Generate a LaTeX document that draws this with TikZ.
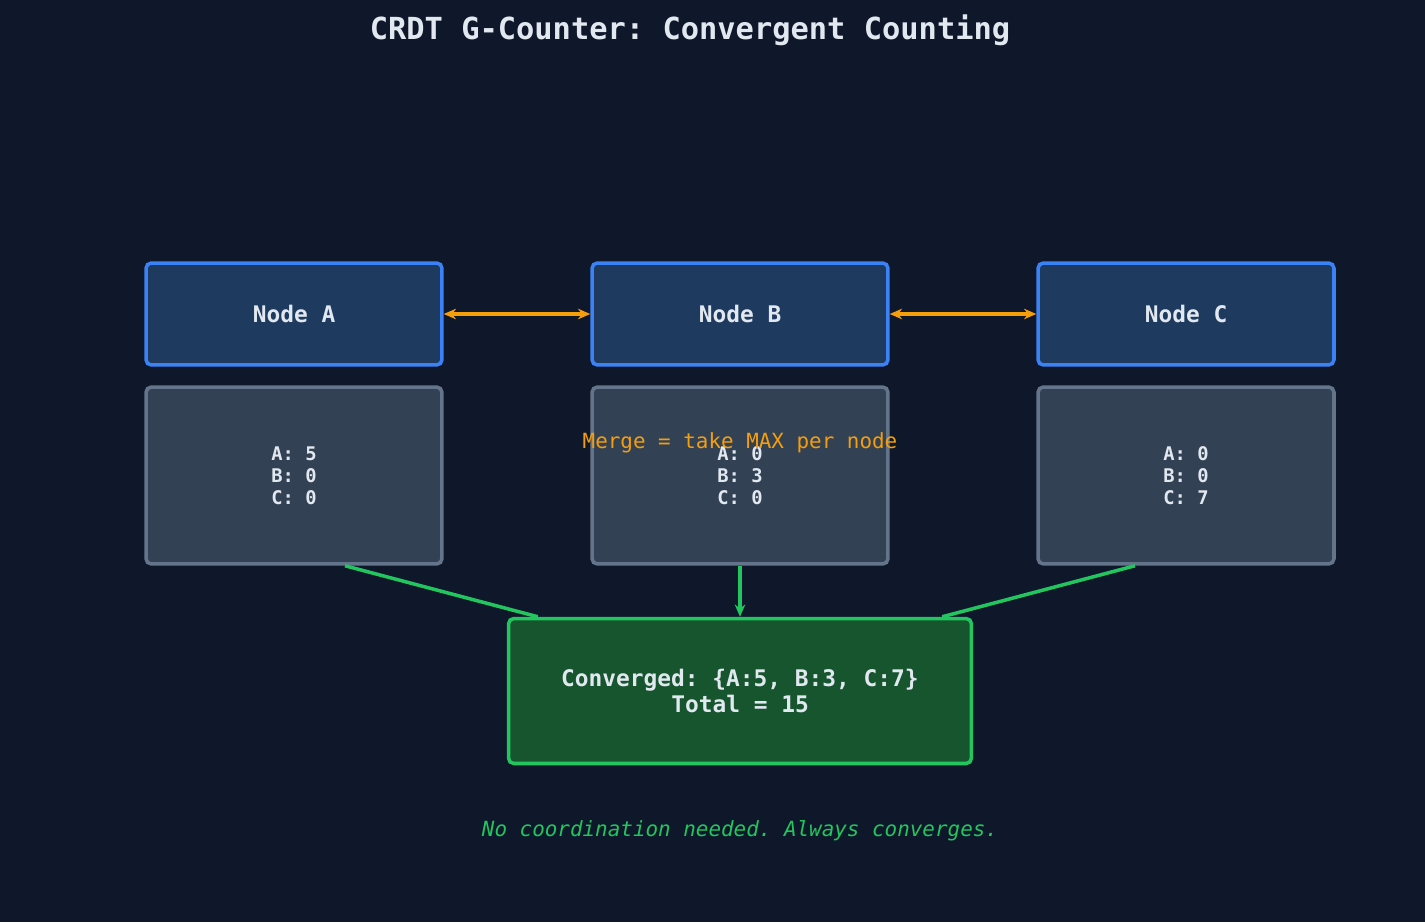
\documentclass[tikz,border=0pt]{standalone}
\usepackage{fontspec}
\setmonofont{DejaVu Sans Mono}
\usetikzlibrary{arrows.meta,calc}
\definecolor{bgcol}{HTML}{0F172A}
\definecolor{nodefill}{HTML}{1E3A5F}
\definecolor{nodeline}{HTML}{3B82F6}
\definecolor{cntfill}{HTML}{334155}
\definecolor{cntline}{HTML}{64748B}
\definecolor{convfill}{HTML}{17552F}
\definecolor{convline}{HTML}{22C55E}
\definecolor{mergecol}{HTML}{F59E0B}
\definecolor{txtcol}{HTML}{E2E8F0}
\tikzset{
    replica/.style={rectangle, rounded corners=3pt, draw=nodeline, fill=nodefill, line width=2pt,
        minimum width=5.92cm, minimum height=2.04cm, text=txtcol, font=\ttfamily\bfseries\fontsize{13}{15}\selectfont},
    counter/.style={rectangle, rounded corners=3pt, draw=cntline, fill=cntfill, line width=2pt,
        minimum width=5.92cm, minimum height=3.54cm, text=txtcol, align=center,
        font=\ttfamily\bfseries\fontsize{10.7}{12.5}\selectfont},
    sync/.style={{Stealth[length=7pt,width=6pt]}-{Stealth[length=7pt,width=6pt]}, draw=mergecol, line width=2pt},
    feed/.style={draw=convline, line width=2pt}
}
\begin{document}
\begin{tikzpicture}[x=0.02cm, y=-0.02cm]
    \fill[bgcol] (0,0) rectangle (1425,922);
    \node[text=txtcol, font=\ttfamily\bfseries\fontsize{17.3}{20}\selectfont] (title) at (690,30) {CRDT G-Counter: Convergent Counting};
    % replicas
    \node[replica] (nodeA) at (294,314) {Node A};
    \node[replica] (nodeB) at (740,314) {Node B};
    \node[replica] (nodeC) at (1186,314) {Node C};
    \draw[sync] (nodeA) -- (nodeB);
    \draw[sync] (nodeB) -- (nodeC);
    % local counters
    \node[counter] (cntA) at (294,475.5) {A: 5\\B: 0\\C: 0};
    \node[counter] (cntB) at (740,475.5) {A: 0\\B: 3\\C: 0};
    \node[counter] (cntC) at (1186,475.5) {A: 0\\B: 0\\C: 7};
    \node[text=mergecol, font=\ttfamily\fontsize{11.9}{13}\selectfont] (merge) at (740,443) {Merge = take MAX per node};
    % merged state
    \node[rectangle, rounded corners=3pt, draw=convline, fill=convfill, line width=2pt,
        minimum width=9.26cm, minimum height=2.9cm, text=txtcol, align=center,
        font=\ttfamily\bfseries\fontsize{13}{15}\selectfont] (conv) at (740,691)
        {Converged: \{A:5, B:3, C:7\}\\Total = 15};
    \draw[feed] ($(cntA.south)+(51,0)$) -- ($(conv.north west)+(31,0)$);
    \draw[feed, -{Stealth[length=7pt,width=6pt]}] (cntB) -- (conv);
    \draw[feed] ($(cntC.south)+(-51,0)$) -- ($(conv.north east)+(-31,0)$);
    \node[text=convline, font=\ttfamily\itshape\fontsize{11.9}{13}\selectfont] (note) at (740,831)
        {No coordination needed. Always converges.};
\end{tikzpicture}
\end{document}
